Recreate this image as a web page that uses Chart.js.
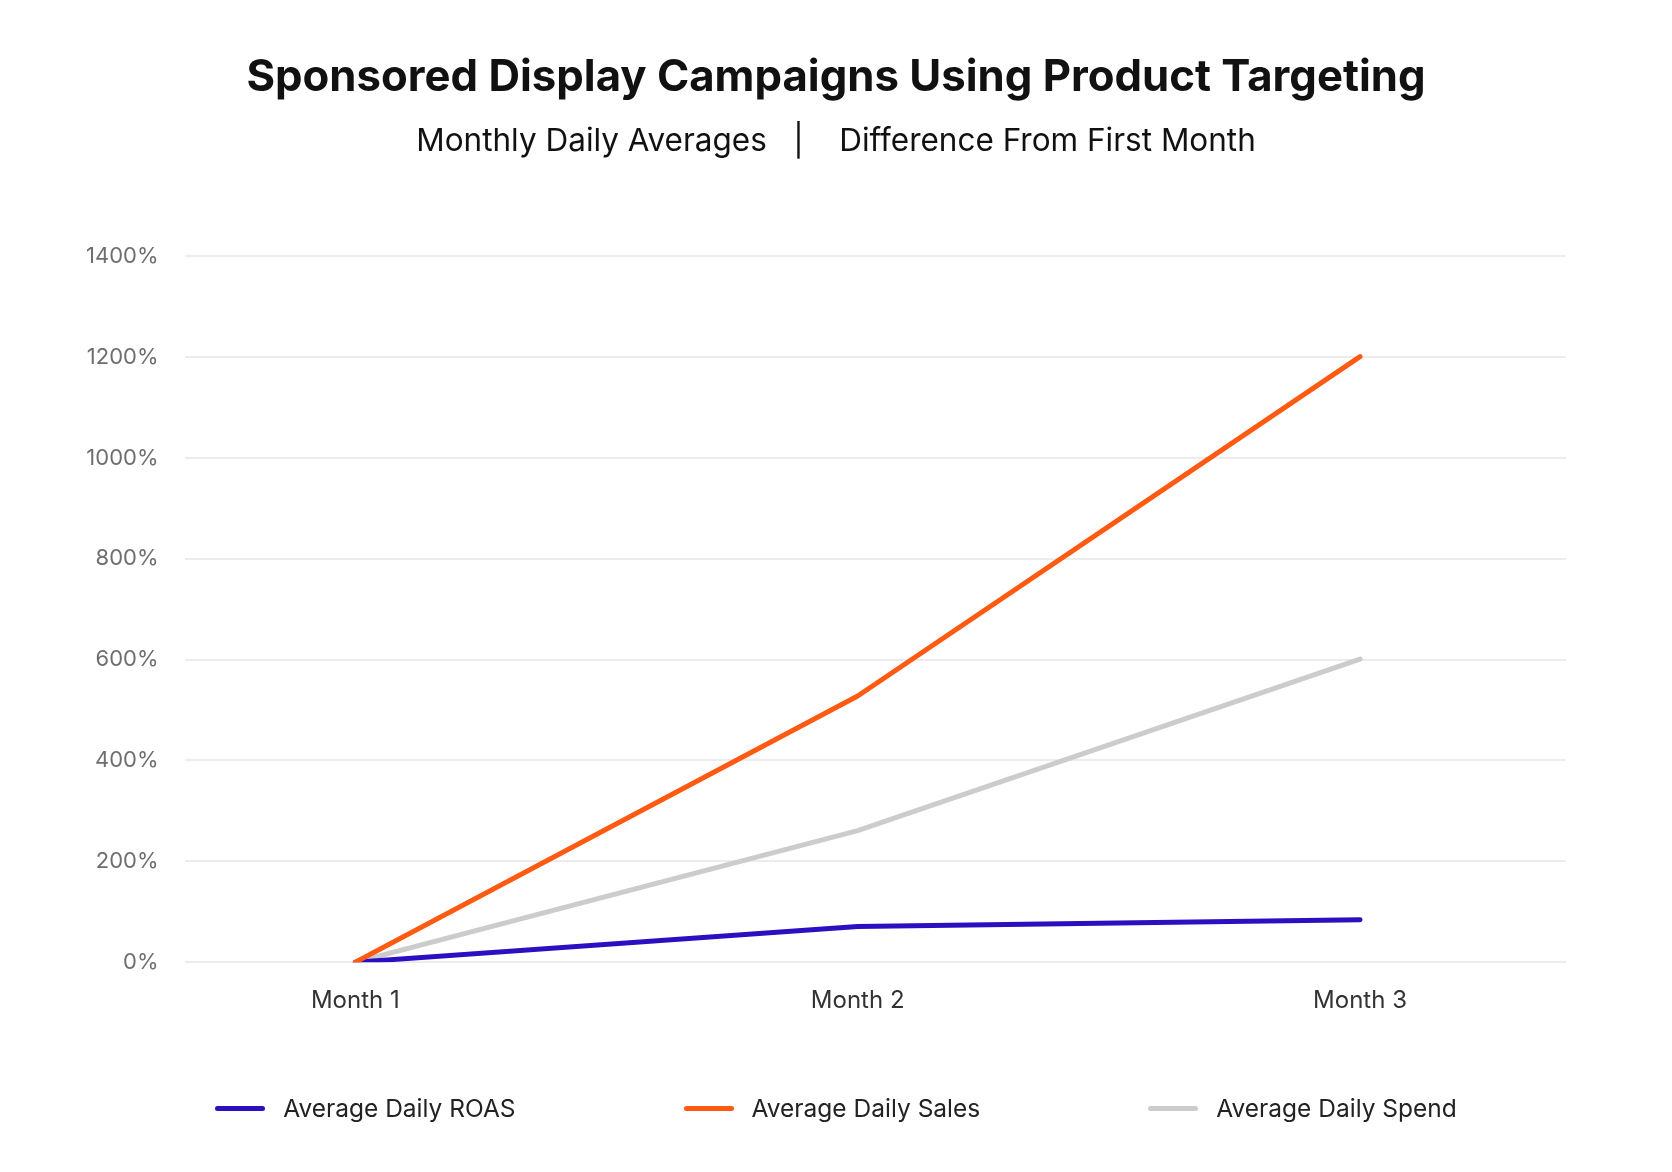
<!DOCTYPE html>
<html>
<head>
<meta charset="utf-8">
<script src="https://cdn.jsdelivr.net/npm/chart.js@4.4.1/dist/chart.umd.min.js"></script>
<style>
  html, body { margin: 0; padding: 0; background: #ffffff; }
  #wrap { position: relative; width: 1672px; height: 1172px; }
  #legend {
    position: absolute; left: 0; right: 0; top: 1093px;
    display: flex; justify-content: center; gap: 168px;
    font-family: Inter, sans-serif; font-size: 24.5px; color: #222222;
  }
  .item { display: flex; align-items: center; }
  .swatch { width: 50px; height: 5px; border-radius: 3px; margin-right: 18px; }
</style>
</head>
<body>
<div id="wrap">
  <canvas id="growthChart" width="1672" height="1172"></canvas>
  <div id="legend"></div>
</div>
<script>
// chart values
const months = ['Month 1', 'Month 2', 'Month 3'];
const roas = [0, 71, 84];
const sales = [0, 528, 1201];
const spend = [0, 261, 601];

const seriesNames = ['Average Daily ROAS', 'Average Daily Sales', 'Average Daily Spend'];
const seriesColors = ['#2b10c2', '#ff5a12', '#cccccc'];
const seriesValues = [roas, sales, spend];

const fontFamily = 'Inter, sans-serif';

// titles should be centred on the whole canvas, not between the paddings
const centerTitles = {
    id: 'centerTitles',
    afterLayout(chart) {
        chart.boxes.forEach(box => {
            if (box.options && box.options.text !== undefined) {
                box.left = 0;
                box.right = chart.width;
                box.width = chart.width;
            }
        });
    }
};

function createGrowthChart() {
    const ctx = document.getElementById('growthChart').getContext('2d');

    // x is linear so the months sit where they do in the original
    const datasets = seriesValues.map((values, i) => ({
        label: seriesNames[i],
        data: values.map((v, idx) => ({ x: idx, y: v })),
        borderColor: seriesColors[i],
        backgroundColor: seriesColors[i],
        borderWidth: 5,
        borderCapStyle: 'round',
        borderJoinStyle: 'round',
        pointRadius: 0,
        tension: 0,
        fill: false,
        order: i === 1 ? 0 : i + 1
    }));

    new Chart(ctx, {
        type: 'line',
        data: { datasets: datasets },
        plugins: [centerTitles],
        options: {
            responsive: false,
            animation: false,
            layout: { padding: { left: 60, right: 106, bottom: 133 } },
            scales: {
                x: {
                    type: 'linear',
                    min: -0.34,
                    max: 2.41,
                    afterBuildTicks: axis => {
                        axis.ticks = months.map((_, i) => ({ value: i }));
                    },
                    ticks: {
                        callback: value => months[value],
                        color: '#333333',
                        padding: 24,
                        font: { family: fontFamily, size: 24 }
                    },
                    grid: { display: false, drawTicks: false },
                    border: { display: false }
                },
                y: {
                    min: 0,
                    max: 1400,
                    ticks: {
                        stepSize: 200,
                        callback: value => value + '%',
                        color: '#6e6e6e',
                        padding: 26,
                        font: { family: fontFamily, size: 22 }
                    },
                    grid: { color: '#ececec', lineWidth: 2, drawTicks: false },
                    border: { display: false }
                }
            },
            plugins: {
                legend: { display: false },
                tooltip: { enabled: false },
                title: {
                    display: true,
                    text: 'Sponsored Display Campaigns Using Product Targeting',
                    color: '#111111',
                    font: { family: fontFamily, size: 43.7, weight: 'bold' },
                    padding: { top: 52, bottom: 18 }
                },
                subtitle: {
                    display: true,
                    text: 'Monthly Daily Averages   |    Difference From First Month',
                    color: '#111111',
                    font: { family: fontFamily, size: 31.5, weight: 'normal' },
                    padding: { top: 0, bottom: 96 }
                }
            }
        }
    });

    // legend as plain html under the canvas
    const legend = document.getElementById('legend');
    seriesNames.forEach((name, i) => {
        const item = document.createElement('div');
        item.className = 'item';
        const swatch = document.createElement('span');
        swatch.className = 'swatch';
        swatch.style.background = seriesColors[i];
        const label = document.createElement('span');
        label.textContent = name;
        item.appendChild(swatch);
        item.appendChild(label);
        legend.appendChild(item);
    });
}

window.onload = function() {
    createGrowthChart();
};
</script>
</body>
</html>
